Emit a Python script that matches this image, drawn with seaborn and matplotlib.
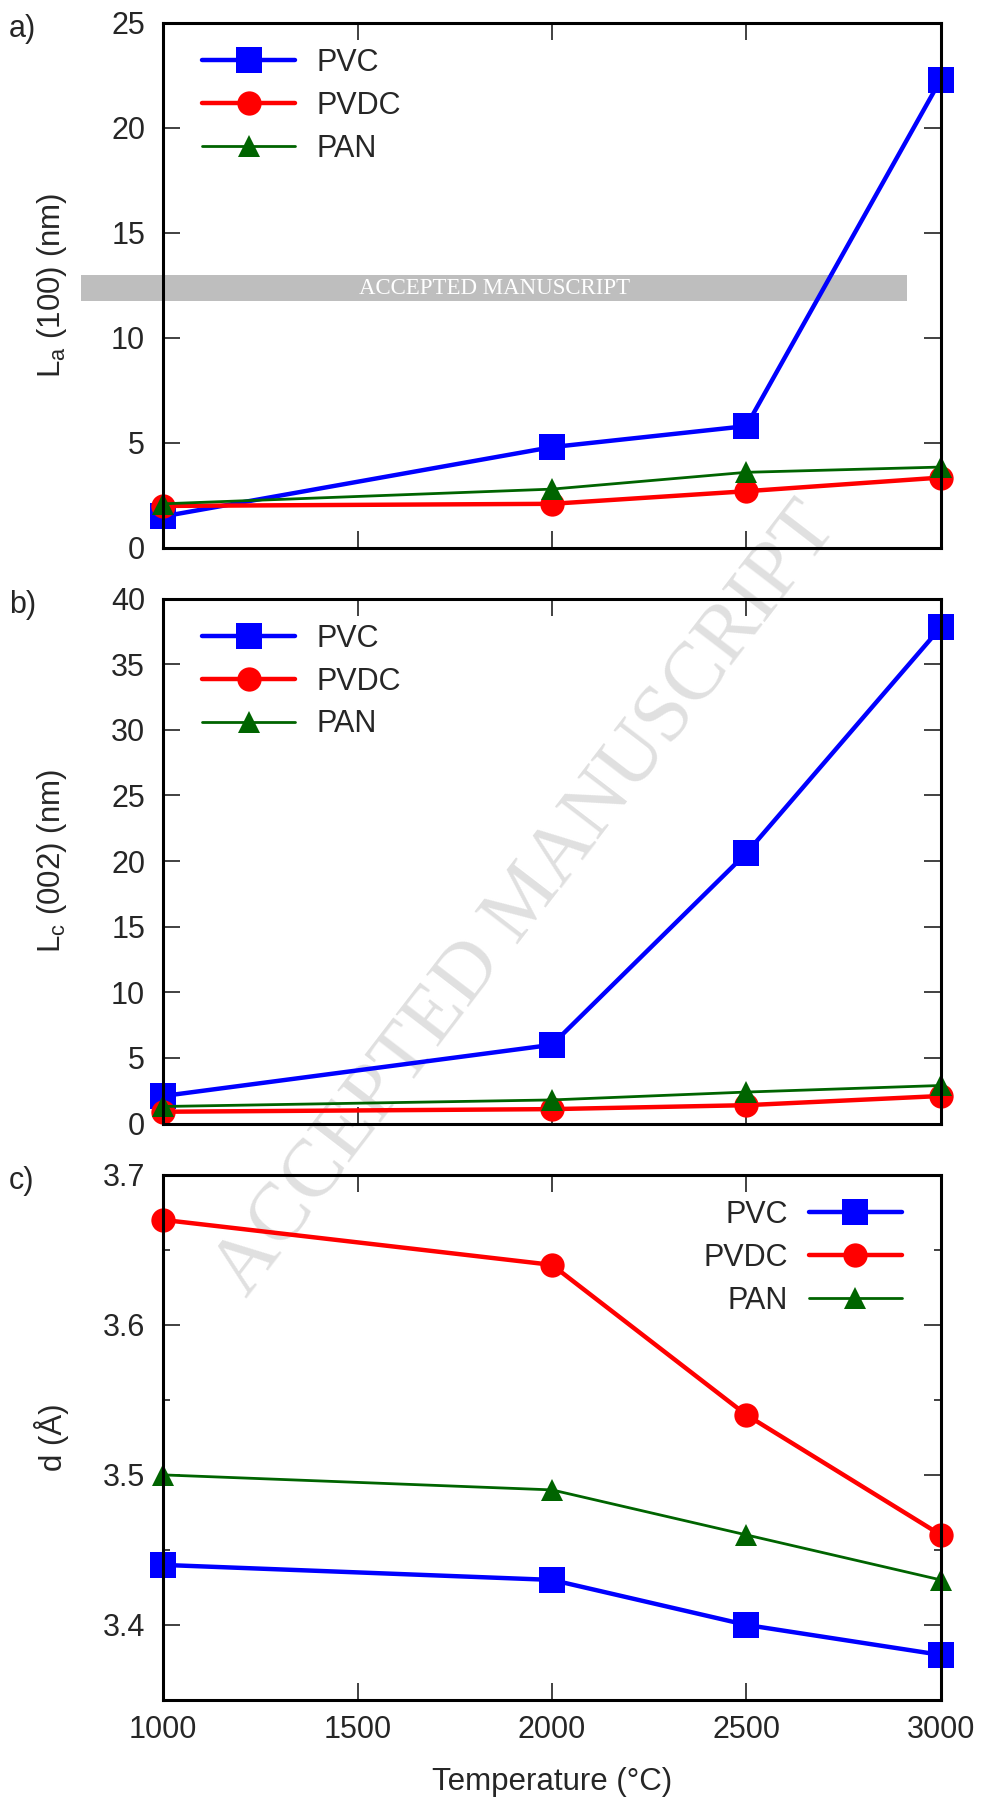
import matplotlib
matplotlib.use("Agg")
import matplotlib.pyplot as plt
from matplotlib.patches import Rectangle
import seaborn as sns

# dane
temps = [1000, 2000, 2500, 3000]
names = ["PVC", "PVDC", "PAN"]

la_pvc = [1.5, 4.8, 5.8, 22.3]
la_pvdc = [2.0, 2.1, 2.7, 3.35]
la_pan = [2.1, 2.8, 3.6, 3.85]

lc_pvc = [2.1, 6.0, 20.6, 37.8]
lc_pvdc = [0.9, 1.1, 1.4, 2.1]
lc_pan = [1.3, 1.8, 2.4, 2.9]

d_pvc = [3.44, 3.43, 3.40, 3.38]
d_pvdc = [3.67, 3.64, 3.54, 3.46]
d_pan = [3.50, 3.49, 3.46, 3.43]

colors = {"PVC": "#0000ff", "PVDC": "#ff0000", "PAN": "#006400"}
markers = {"PVC": "s", "PVDC": "o", "PAN": "^"}
msizes = {"PVC": 18.5, "PVDC": 17.5, "PAN": 16}
lwidths = {"PVC": 3.2, "PVDC": 3.2, "PAN": 2.0}

sns.set_style("ticks")
plt.rcParams["font.family"] = ["Liberation Sans", "DejaVu Sans"]
plt.rcParams["mathtext.fontset"] = "custom"
plt.rcParams["mathtext.rm"] = "Liberation Sans"
plt.rcParams["mathtext.it"] = "Liberation Sans:italic"
plt.rcParams["font.size"] = 22

fig = plt.figure(figsize=(9.83, 18), dpi=100)

panels = [
    ("a)", [la_pvc, la_pvdc, la_pan], r"L$_\mathrm{a}$ (100) (nm)", (0, 25), 5, 0.6956),
    ("b)", [lc_pvc, lc_pvdc, lc_pan], r"L$_\mathrm{c}$ (002) (nm)", (0, 40), 5, 0.3758),
    ("c)", [d_pvc, d_pvdc, d_pan], "d (Å)", (3.35, 3.7), 0.1, 0.0556),
]

for tag, data, ylab, ylim, ystep, bottom in panels:
    ax = fig.add_axes([0.166, bottom, 0.791, 0.2917])
    ax.patch.set_alpha(0)
    for name, vals in zip(names, data):
        sns.lineplot(x=temps, y=vals, ax=ax, color=colors[name], marker=markers[name],
                     markersize=msizes[name], markeredgewidth=0, linewidth=lwidths[name],
                     label=name, clip_on=False)
    ax.set_xlim(1000, 3000)
    ax.set_ylim(*ylim)
    ax.set_xticks([1000, 1500, 2000, 2500, 3000])
    if tag == "c)":
        ax.set_yticks([3.4, 3.5, 3.6, 3.7])
        ax.set_yticklabels(["3.4", "3.5", "3.6", "3.7"])
        ax.set_yticks([3.45, 3.55, 3.65], minor=True)
        ax.set_xlabel("Temperature (°C)", va="center", fontsize=22.5)
        ax.xaxis.set_label_coords(0.5, -0.156)
    else:
        yt = list(range(ylim[0], ylim[1] + 1, ystep))
        ax.set_yticks(yt)
        ax.set_xticklabels([])
        ax.set_xlabel("")
    ax.set_ylabel(ylab, va="center", fontsize=22.5)
    ax.yaxis.set_label_coords(-0.143, 0.5)
    ax.tick_params(which="major", direction="in", length=12, width=1.3, color="#333333",
                   top=True, right=True, labelsize=22)
    ax.tick_params(which="minor", direction="in", length=5, width=1.3, color="#333333",
                   left=True, right=True)
    ax.tick_params(axis="y", pad=13)
    ax.tick_params(axis="x", pad=11)
    for sp in ax.spines.values():
        sp.set_linewidth(2.2)
        sp.set_color("black")

    if tag == "c)":
        ax.legend(loc="upper right", bbox_to_anchor=(0.950, 0.952), frameon=False,
                  markerfirst=False, numpoints=1, handlelength=3.05, handletextpad=0.68,
                  labelspacing=0.42, borderpad=0, borderaxespad=0, fontsize=22)
    else:
        ax.legend(loc="upper left", bbox_to_anchor=(0.050, 0.952), frameon=False,
                  numpoints=1, handlelength=3.05, handletextpad=0.68,
                  labelspacing=0.42, borderpad=0, borderaxespad=0, fontsize=22)

    fig.text(0.009, bottom + 0.2917 + 0.0050, tag, ha="left", va="top", fontsize=22)

# znak wodny
fig.patches.append(Rectangle((0.0824, 0.8328), 0.8403, 0.01444, transform=fig.transFigure,
                             facecolor="#bebebe", edgecolor="none", zorder=-2))
fig.text(0.5036, 0.8400, "ACCEPTED MANUSCRIPT", ha="center", va="center", color="white",
         fontsize=16.5, family="Liberation Serif", zorder=-1)
fig.text(0.536, 0.500, "ACCEPTED MANUSCRIPT", ha="center", va="center", color="#e0e0e0",
         fontsize=59, family="Liberation Serif", rotation=52.5, rotation_mode="anchor", zorder=-1)

fig.savefig("out.png", dpi=100)
